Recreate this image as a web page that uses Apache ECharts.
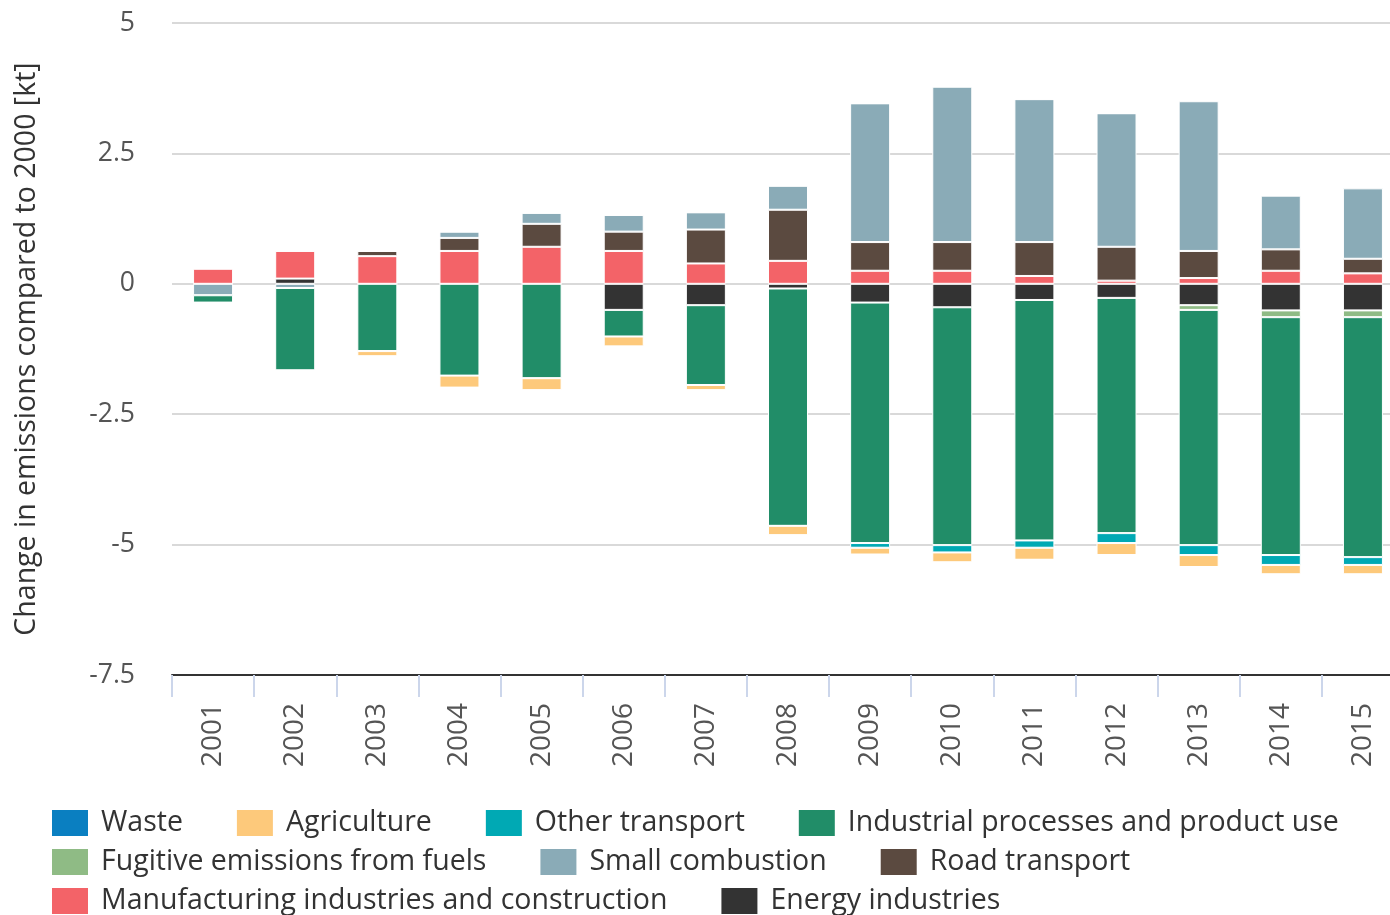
<!DOCTYPE html>
<html>
<head>
<meta charset="utf-8">
<script src="https://cdn.jsdelivr.net/npm/echarts@6/dist/echarts.min.js"></script>
<style>
  html, body { margin: 0; padding: 0; background: #fff; }
  #chart { width: 1390px; height: 915px; }
</style>
</head>
<body>
<div id="chart"></div>
<script>
// years on the x axis
const years = ['2001', '2002', '2003', '2004', '2005', '2006', '2007', '2008',
  '2009', '2010', '2011', '2012', '2013', '2014', '2015']

// change vs 2000 [kt]
const energy = [0, 0.10, 0, 0, 0, -0.50, -0.41, -0.09, -0.36, -0.45, -0.31, -0.27, -0.41, -0.51, -0.51]
const manufacturing = [0.29, 0.53, 0.53, 0.63, 0.71, 0.63, 0.39, 0.44, 0.25, 0.25, 0.15, 0.06, 0.11, 0.25, 0.20]
const road = [0, 0, 0.10, 0.25, 0.44, 0.37, 0.65, 0.98, 0.55, 0.55, 0.65, 0.65, 0.52, 0.41, 0.28]
const smallComb = [-0.22, -0.08, 0, 0.12, 0.21, 0.32, 0.33, 0.46, 2.66, 2.98, 2.74, 2.56, 2.87, 1.03, 1.35]
const fugitive = [0, 0, 0, 0, 0, 0, 0, 0, 0, 0, 0, 0, -0.09, -0.13, -0.13]
const industrial = [-0.14, -1.58, -1.29, -1.76, -1.81, -0.51, -1.53, -4.55, -4.61, -4.56, -4.61, -4.51, -4.51, -4.56, -4.60]
const otherTransport = [0, 0, 0, 0, 0, 0, 0, 0, -0.09, -0.14, -0.14, -0.19, -0.19, -0.19, -0.15]
const agriculture = [0, 0, -0.10, -0.23, -0.23, -0.19, -0.10, -0.18, -0.13, -0.19, -0.23, -0.23, -0.23, -0.18, -0.18]
const waste = [0, 0, 0, 0, 0, 0, 0, 0, 0, 0, 0, 0, 0, 0, 0]

// y axis ticks
const yMin = -7.5
const yMax = 5
const yStep = 2.5

const font = '"Open Sans", "Noto Sans", sans-serif'

// stacked from zero outwards
const seriesDefs = [
  { name: 'Energy industries', data: energy, color: '#333333' },
  { name: 'Manufacturing industries and construction', data: manufacturing, color: '#f36368' },
  { name: 'Road transport', data: road, color: '#5b4a40' },
  { name: 'Small combustion', data: smallComb, color: '#8aabb7' },
  { name: 'Fugitive emissions from fuels', data: fugitive, color: '#8fbb85' },
  { name: 'Industrial processes and product use', data: industrial, color: '#218d68' },
  { name: 'Other transport', data: otherTransport, color: '#00a9b4' },
  { name: 'Agriculture', data: agriculture, color: '#fdc97b' },
  { name: 'Waste', data: waste, color: '#0a7fc1' }
]

const legendRows = [
  ['Waste', 'Agriculture', 'Other transport', 'Industrial processes and product use'],
  ['Fugitive emissions from fuels', 'Small combustion', 'Road transport'],
  ['Manufacturing industries and construction', 'Energy industries']
]

const chart = echarts.init(document.getElementById('chart'))

const legendBase = {
  left: 50,
  padding: 0,
  orient: 'horizontal',
  icon: 'rect',
  itemWidth: 38,
  itemHeight: 28,
  itemGap: 52,
  selectedMode: false,
  textStyle: {
    fontFamily: font,
    fontSize: 28.5,
    color: '#333',
    padding: [0, 0, 0, 7]
  }
}

const option = {
  animation: false,
  textStyle: { fontFamily: font },
  legend: legendRows.map((row, i) => Object.assign({}, legendBase, {
    top: 808 + i * 39,
    data: row
  })),
  grid: {
    left: 172,
    right: -14,
    top: 23,
    bottom: 240,
    outerBoundsMode: 'none'
  },
  xAxis: {
    type: 'category',
    data: years,
    axisLine: {
      onZero: false,
      lineStyle: { color: '#333', width: 2 }
    },
    axisTick: {
      show: true,
      length: 22,
      lineStyle: { color: '#ccd6eb', width: 2 }
    },
    axisLabel: {
      rotate: 90,
      margin: 28,
      fontSize: 28,
      color: '#555',
      fontFamily: font
    }
  },
  yAxis: {
    type: 'value',
    min: yMin,
    max: yMax,
    interval: yStep,
    name: 'Change in emissions compared to 2000 [kt]',
    nameLocation: 'middle',
    nameRotate: 90,
    nameGap: 131,
    nameTextStyle: {
      fontSize: 28.5,
      color: '#333',
      fontFamily: font
    },
    axisLine: { show: false },
    axisTick: { show: false },
    axisLabel: {
      margin: 37,
      fontSize: 26.5,
      color: '#555',
      fontFamily: font
    },
    splitLine: {
      lineStyle: { color: '#d9d9d9', width: 2 }
    }
  },
  series: seriesDefs.map(s => ({
    name: s.name,
    type: 'bar',
    stack: 'total',
    barWidth: 40,
    data: s.data,
    itemStyle: {
      color: s.color,
      borderColor: '#fff',
      borderWidth: 1
    }
  }))
}

chart.setOption(option)
window.addEventListener('resize', chart.resize)
</script>
</body>
</html>
